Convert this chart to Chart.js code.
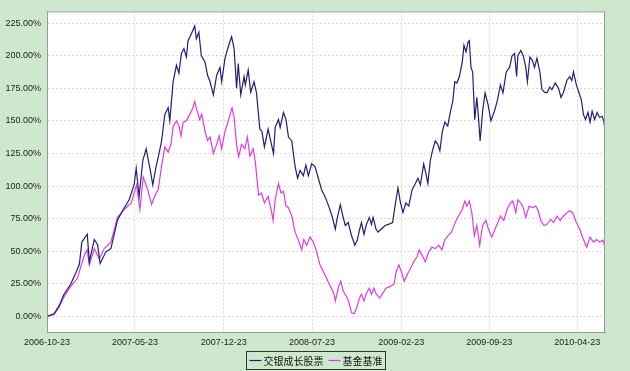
<!DOCTYPE html>
<html>
<head>
<meta charset="utf-8">
<script src="https://cdn.jsdelivr.net/npm/chart.js@4.4.0/dist/chart.umd.min.js"></script>
<style>
  html, body { margin: 0; padding: 0; background: #cde8cd; }
  #wrap { width: 630px; height: 371px; }
</style>
</head>
<body>
<div id="wrap"><canvas id="navChart" width="630" height="371"></canvas></div>
<script>
// x = days since 2006-10-23, y = cumulative return in %
const seriesNames = ['交银成长股票', '基金基准'];

const tickDays = [0, 212, 426, 639, 854, 1066, 1278];
const tickLabels = ['2006-10-23', '2007-05-23', '2007-12-23', '2008-07-23', '2009-02-23', '2009-09-23', '2010-04-23'];
const yTicks = [0, 25, 50, 75, 100, 125, 150, 175, 200, 225];

const fundSeries = [
    [0,0],[17,2],[29,8],[41,17],[57,24.6],[69,33],[78,40],[84,57],[97,63],[102,42],
    [114,59],[122,55],[128,40.5],[142,49.5],[154,52],[170,74],[182,81],[198,89.5],[210,101],[215,113.6],
    [222,92],[231,119.6],[239,128.6],[249,112],[255,101],[263,115],[268,122],[276,134],[284,155],[292,160],
    [296,150],[304,180],[312,192.7],[318,186.6],[324,201.7],[330,205.5],[336,199],[340,211.5],[348,216.8],[356,222.8],
    [360,213],[366,218],[372,200],[381,195],[387,185],[393,180],[401,170],[409,185],[417,191],[421,180],
    [429,198],[438,208],[445,214.5],[451,205.5],[457,175],[461,194],[467,170],[475,184],[478,177.6],[485,189],
    [491,172],[499,180],[505,171.5],[513,143.7],[518,142],[524,130],[533,143.7],[541,132],[546,125],[550,145],
    [558,151],[562,145],[570,156.4],[576,151],[582,137.6],[590,134.6],[598,115],[604,106],[610,112],[618,108],
    [624,116],[630,108],[638,117],[646,115],[654,106],[662,97],[670,92],[679,84.6],[687,77],[695,67],
    [699,74.4],[707,85.7],[713,77],[719,69.7],[726,72],[734,62],[742,54.6],[748,58.5],[753,66],[758,72],
    [764,63],[770,70.6],[777,75.9],[782,70.6],[786,76],[793,67],[798,64.6],[806,67],[815,69.7],[823,70.6],
    [833,72],[840,87],[846,98.5],[852,87],[858,79.6],[865,87],[872,84.6],[880,97],[888,102],[894,106],
    [900,101],[908,117],[913,110],[918,102],[924,119.6],[929,127],[936,134.6],[942,132],[947,127],[953,142],
    [959,149],[966,146],[971,155],[978,165],[983,180],[988,179],[994,184],[1001,195],[1005,208],[1010,203],
    [1015,210.5],[1018,211.5],[1022,191],[1026,187.5],[1031,151],[1036,168],[1040,152.6],[1044,134.6],[1050,157.5],[1056,171.5],
    [1063,162.6],[1070,150],[1079,158],[1085,165],[1093,177.6],[1099,171.5],[1107,187.5],[1115,191],[1121,200],[1127,201.7],
    [1132,184],[1135,200],[1142,204],[1148,200],[1154,191],[1158,180],[1164,199],[1170,196.5],[1175,191],[1181,198],
    [1188,187.5],[1193,174],[1199,172],[1205,171.5],[1212,176],[1217,174],[1225,179],[1233,175],[1239,168],[1245,172],
    [1253,181],[1260,184],[1265,181],[1269,187.5],[1276,177.6],[1282,172],[1288,166],[1293,155],[1298,151],[1304,156.4],
    [1309,149],[1314,157.5],[1320,151],[1326,156.4],[1332,152.6],[1338,153.5],[1342,150],[1345,143]
];

const benchSeries = [
    [0,0],[17,1.5],[29,7],[41,15],[57,23],[73,29],[90,47],[97,51],[102,39.5],[114,52],
    [126,44],[138,52],[154,57],[170,76],[186,82],[203,87],[210,94.6],[216,101],[224,82],[232,107],
    [243,97],[252,86],[263,94.6],[268,97],[276,115],[284,130],[292,126],[299,132],[304,146],[312,150],
    [318,146],[323,138.5],[328,149],[336,150],[344,155],[352,160],[356,165],[362,157.5],[368,151],[373,155],
    [381,142],[387,135],[393,137.6],[401,125],[409,132],[415,138.5],[421,128.6],[429,142],[437,150],[446,160],
    [451,152.7],[457,132],[462,122.5],[469,132],[477,128.6],[483,137.6],[489,123],[497,128.6],[502,118.8],[510,93],
    [517,94.6],[524,87],[533,92],[541,81],[545,73.6],[550,89.5],[558,102],[564,94.6],[570,96],[576,84.6],
    [582,83.4],[590,77],[598,64.6],[606,58.5],[614,51],[619,59],[626,54.6],[634,60.8],[642,57],[650,49.5],
    [658,39.5],[666,34.4],[674,29],[683,23],[691,18],[695,11.8],[703,23],[708,27],[714,19.4],[721,15.6],
    [727,11.8],[734,2.8],[740,2],[746,5.8],[753,14],[758,17],[764,11.8],[770,18],[777,21.6],[782,17],
    [788,21.6],[794,17],[802,14],[810,18],[817,21.6],[828,23],[836,24.6],[842,34.4],[848,39.5],[854,34.4],
    [861,27],[868,32],[876,36.7],[884,42],[892,45.7],[897,51],[904,47],[912,42],[920,49.5],[928,53],
    [936,52],[944,54.6],[952,51],[959,59],[967,62],[975,64.6],[984,72],[992,77],[1001,82],[1007,88.5],
    [1012,84.6],[1018,88.5],[1024,79.6],[1030,62],[1036,69.7],[1043,54.6],[1050,69.7],[1058,73.6],[1064,67],[1072,60.8],
    [1080,67],[1085,70.6],[1093,77],[1101,73.6],[1109,82],[1117,87],[1123,88.5],[1130,79.6],[1135,89.5],[1142,87],
    [1148,83.4],[1154,76],[1162,84.6],[1170,83.4],[1178,84.6],[1184,81],[1190,73.6],[1198,69.7],[1205,70.6],[1214,74.4],
    [1221,72],[1229,77],[1237,73.6],[1245,77],[1253,79.6],[1260,81],[1267,79.6],[1276,72],[1284,67],[1293,59],
    [1301,53],[1309,60.8],[1317,57],[1325,59],[1332,57],[1340,58.5],[1345,53]
];

const lineColors = ['#1f1f75', '#e03ce6'];

// Green page, white plot panel
const panelBg = {
    id: 'panelBg',
    beforeDraw(chart) {
        const { ctx, chartArea: a } = chart;
        ctx.save();
        ctx.fillStyle = '#cde8cd';
        ctx.fillRect(0, 0, chart.width, chart.height);
        ctx.fillStyle = '#ffffff';
        ctx.fillRect(a.left, a.top, a.right - a.left, a.bottom - a.top);
        ctx.restore();
    }
};

// Grey frame round the plot
const frame = {
    id: 'frame',
    afterDatasetsDraw(chart) {
        const { ctx, chartArea: a } = chart;
        ctx.save();
        ctx.strokeStyle = '#9a9a9a';
        ctx.lineWidth = 1;
        ctx.strokeRect(a.left + 0.5, a.top + 0.5, a.right - a.left - 1, a.bottom - a.top);
        ctx.restore();
    }
};

// Boxed legend under the x axis
const legendBox = {
    id: 'legendBox',
    afterDraw(chart) {
        const ctx = chart.ctx;
        const sets = chart.data.datasets;
        ctx.save();
        ctx.font = '10px "Noto Sans CJK SC", sans-serif';
        const lineLen = 12, gap = 2, itemGap = 5, padX = 3;
        const widths = sets.map(d => ctx.measureText(d.label).width);
        const total = padX * 2 + widths.reduce((s, w) => s + lineLen + gap + w, 0) + itemGap * (sets.length - 1);
        const x0 = Math.round(chart.width / 2 - total / 2) + 0.5;
        const y0 = chart.chartArea.bottom + 19.5, h = 18;
        ctx.strokeStyle = '#333';
        ctx.lineWidth = 1;
        ctx.strokeRect(x0, y0, Math.round(total), h);
        let x = x0 + padX;
        const cy = y0 + h / 2;
        sets.forEach((d, i) => {
            ctx.strokeStyle = d.borderColor;
            ctx.lineWidth = 1.2;
            ctx.beginPath();
            ctx.moveTo(x, cy);
            ctx.lineTo(x + lineLen, cy);
            ctx.stroke();
            x += lineLen + gap;
            ctx.fillStyle = '#111';
            ctx.textBaseline = 'middle';
            ctx.fillText(d.label, x, cy + 0.5);
            x += widths[i] + itemGap;
        });
        ctx.restore();
    }
};

const tickFont = { family: '"Liberation Sans", Arial, sans-serif', size: 9 };

new Chart(document.getElementById('navChart'), {
    type: 'line',
    data: {
        datasets: [
            {
                label: seriesNames[0],
                data: fundSeries.map(p => ({ x: p[0], y: p[1] })),
                borderColor: lineColors[0],
                borderWidth: 1.2,
                pointRadius: 0,
                tension: 0
            },
            {
                label: seriesNames[1],
                data: benchSeries.map(p => ({ x: p[0], y: p[1] })),
                borderColor: lineColors[1],
                borderWidth: 1.2,
                pointRadius: 0,
                tension: 0
            }
        ]
    },
    options: {
        responsive: false,
        animation: false,
        layout: { padding: { top: 5, right: 25, left: 0, bottom: 0 } },
        plugins: {
            legend: { display: false },
            tooltip: { enabled: false }
        },
        scales: {
            x: {
                type: 'linear',
                min: 0,
                max: 1345,
                afterBuildTicks: scale => { scale.ticks = tickDays.map(v => ({ value: v })); },
                afterFit: scale => { scale.height = 39; },
                ticks: {
                    callback: (v, i) => tickLabels[i],
                    font: tickFont,
                    color: '#222',
                    padding: 5,
                    maxRotation: 0,
                    autoSkip: false
                },
                grid: { color: '#dadada', drawTicks: false },
                border: { display: true, color: '#888', dash: [2, 2] }
            },
            y: {
                min: -12,
                max: 234,
                afterBuildTicks: scale => { scale.ticks = yTicks.map(v => ({ value: v })); },
                afterFit: scale => { scale.width = 47; },
                ticks: {
                    callback: v => v.toFixed(2) + '%',
                    font: tickFont,
                    color: '#222',
                    padding: 6
                },
                grid: { color: '#dadada', drawTicks: false },
                border: { display: true, color: '#888', dash: [2, 2] }
            }
        }
    },
    plugins: [panelBg, frame, legendBox]
});
</script>
</body>
</html>
